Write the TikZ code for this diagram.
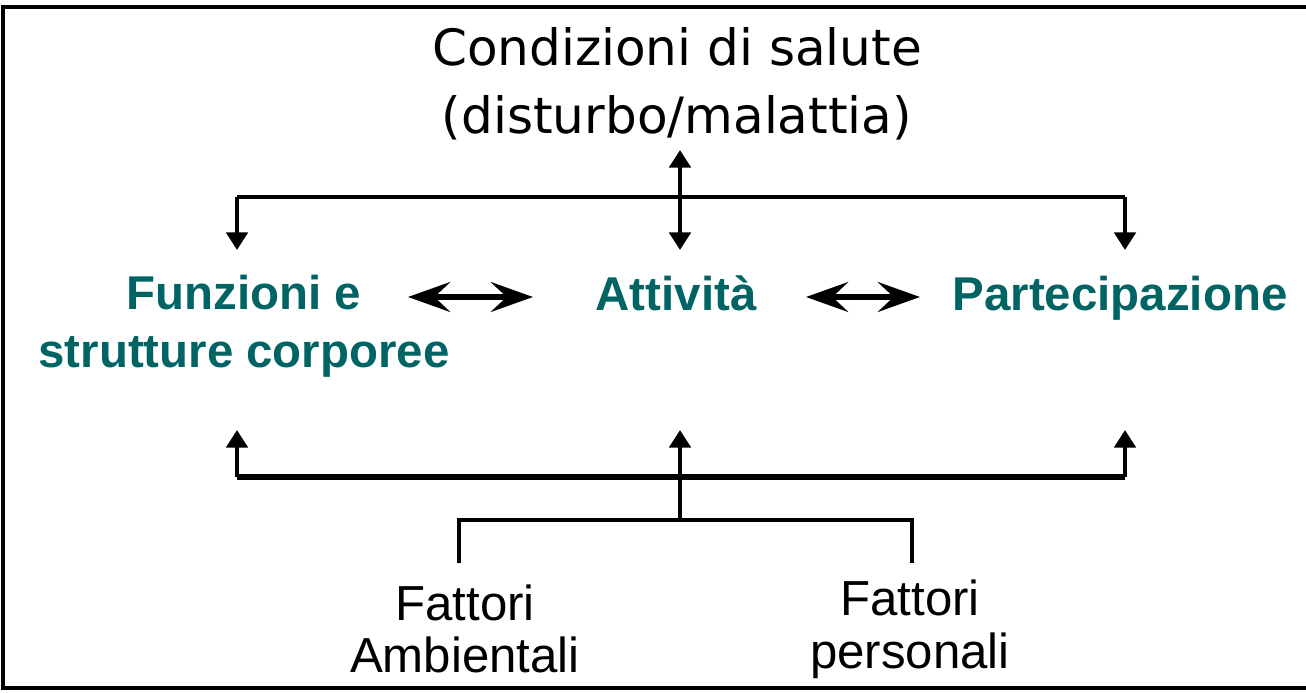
\documentclass[tikz,border=0pt]{standalone}
\usepackage{fontspec}
\setmainfont{Liberation Sans}
\newfontfamily\titlefont{DejaVu Sans}
\usetikzlibrary{arrows.meta}
\definecolor{icfteal}{RGB}{0,100,100}
\begin{document}
\begin{tikzpicture}[x=0.02cm,y=-0.02cm,
    tealtext/.style={text=icfteal,font=\fontsize{27}{33}\selectfont\bfseries,align=center,inner sep=0pt},
    blacktext/.style={font=\fontsize{28}{30}\selectfont,align=center,inner sep=0pt},
    link/.style={line width=2.8pt},
    tip/.style={-{Triangle[length=10pt,width=12pt]}},
    dbl/.style={line width=3pt,{Stealth[length=24pt,width=17pt,inset=9pt]}-{Stealth[length=24pt,width=17pt,inset=9pt]}}]
    \useasboundingbox (0,0) rectangle (1306,693);
    %% Frame
    \draw[line width=1.8pt] (1310,7) -- (3,7) -- (3,688) -- (1310,688);
    %% Texts
    \node[font=\titlefont\fontsize{28.5}{38.5}\selectfont,align=center,inner sep=0pt] (cond) at (677,84) {Condizioni di salute\\(disturbo/malattia)};
    \node[tealtext] (fun) at (244,326) {Funzioni e\\strutture corporee};
    \node[tealtext,anchor=base] (att) at (676,310) {Attività};
    \node[tealtext,anchor=base] (par) at (1120,310) {Partecipazione};
    \node[blacktext] (amb) at (465,629) {Fattori\\Ambientali};
    \node[blacktext] (per) at (910,629) {Fattori\\personali};
    %% Top tree
    \coordinate (tm) at (680,197);
    \coordinate (tl) at (237,197);
    \coordinate (tr) at (1125,197);
    \coordinate (tup) at (680,150);
    \draw[link] (tl) -- (tr);
    \draw[link,tip] (tm) -- (tup);
    \draw[link,tip] (tl) -- (tl |- 0,250);
    \draw[link,tip] (tm) -- (tm |- 0,250);
    \draw[link,tip] (tr) -- (tr |- 0,250);
    %% Side arrows
    \draw[dbl] (408,297) -- (533,297);
    \draw[dbl] (806,297) -- (920,297);
    %% Bottom tree
    \coordinate (bm) at (680,477);
    \coordinate (bl) at (237,477);
    \coordinate (br) at (1125,477);
    \coordinate (fm) at (680,520);
    \coordinate (fl) at (459,563);
    \coordinate (fr) at (912,563);
    \draw[line width=3.4pt] (bl) -- (br);
    \draw[link,tip] (bl) -- (bl |- 0,430);
    \draw[link,tip] (bm) -- (bm |- 0,430);
    \draw[link,tip] (br) -- (br |- 0,430);
    \draw[link] (bm) -- (fm);
    \draw[line width=1.9pt] (fl) -- (fl |- fm) -- (fr |- fm) -- (fr);
\end{tikzpicture}
\end{document}
